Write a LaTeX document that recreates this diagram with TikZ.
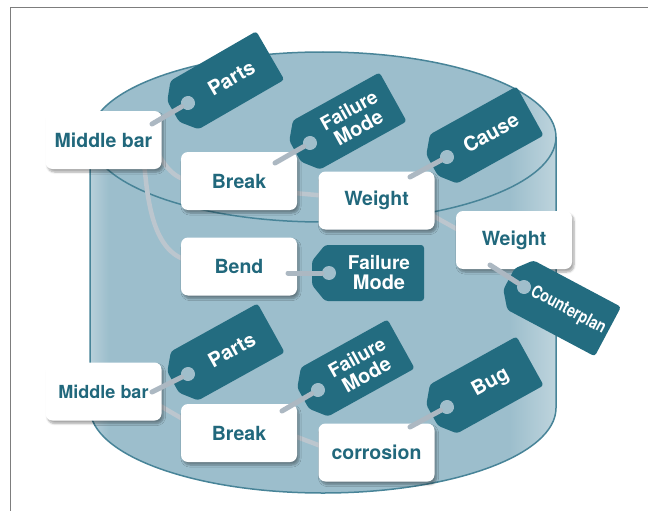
\documentclass[tikz,border=0pt]{standalone}
\usepackage{fontspec}
\setmainfont{TeX Gyre Heros}
\usetikzlibrary{calc,shadows.blur}

\definecolor{tagteal}{RGB}{35,108,128}
\definecolor{textteal}{RGB}{33,104,124}
\definecolor{cylmid}{RGB}{156,190,204}
\definecolor{cylleft}{RGB}{184,208,218}
\definecolor{cyllight}{RGB}{190,212,221}
\definecolor{cylrim}{RGB}{72,132,152}
\definecolor{linkgray}{RGB}{188,198,206}
\definecolor{stringgray}{RGB}{172,184,194}
\definecolor{holecol}{RGB}{160,190,203}
\definecolor{framegray}{RGB}{125,125,125}

% light bands along both sides of the drum
\pgfdeclarehorizontalshading{cylshade}{100bp}{color(0bp)=(cylleft); color(25bp)=(cylleft); color(27bp)=(cylmid); color(70bp)=(cylmid); color(75bp)=(cyllight); color(100bp)=(cyllight)}

\tikzset{
  box/.style={fill=white, rounded corners=7pt, minimum width=116pt, minimum height=58pt,
    inner sep=0pt, text=textteal, font=\fontsize{19.5}{20}\selectfont\bfseries,
    blur shadow={shadow xshift=2pt, shadow yshift=-3pt, shadow blur steps=6, shadow opacity=35}},
  link/.style={draw=linkgray, line width=4.5pt},
  string/.style={draw=stringgray, line width=5pt, line cap=round},
  tagtext/.style={text=white, align=center, inner sep=0pt, font=\fontsize{20}{20}\selectfont\bfseries},
  pics/luggage/.style n args={2}{code={
    \begin{scope}[rotate=#1, transform shape]
      \fill[tagteal, rounded corners=3pt] (-17,-12) -- (-4,-28) -- (95,-28) -- (95,28) -- (-4,28) -- (-17,12) -- cycle;
      \node[circle, fill=holecol, minimum size=14pt, inner sep=0pt] (-hole) at (0,0) {};
      \node[tagtext] (-label) at (50,0) {#2};
    \end{scope}
  }}
}

\begin{document}
\begin{tikzpicture}[x=1pt, y=-1pt]
\useasboundingbox (0,0) rectangle (648,511);

% page frame
\draw[framegray, line width=1pt] (10,520) -- (10,8) -- (660,8);

% storage drum
\shade[shading=cylshade] (90,137) rectangle (556,408);
\shade[shading=cylshade] (323,408) ellipse [x radius=233pt, y radius=85pt];
\shade[shading=cylshade] (323,137) ellipse [x radius=233pt, y radius=85pt];
\draw[cylrim, line width=1.5pt] (90,137) -- (90,408) arc [start angle=180, end angle=360, x radius=233pt, y radius=85pt] -- (556,137);
\draw[cylrim, line width=1.5pt] (323,137) ellipse [x radius=233pt, y radius=85pt];

% links between records (behind the cards)
\coordinate (l1a) at (150,140);  \coordinate (l1b) at (195,181);
\coordinate (l2a) at (143,150);  \coordinate (l2b) at (200,262);
\coordinate (l3a) at (260,190);  \coordinate (l3b) at (350,198);
\coordinate (l4a) at (410,203);  \coordinate (l4b) at (480,242);
\coordinate (l5a) at (145,397);  \coordinate (l5b) at (205,432);
\coordinate (l6a) at (260,423);  \coordinate (l6b) at (350,457);
\draw[link] (l1a) to[out=-60, in=180] (l1b);
\draw[link] (l2a) to[out=-85, in=180] (l2b);
\draw[link] (l3a) -- (l3b);
\draw[link] (l4a) -- (l4b);
\draw[link] (l5a) -- (l5b);
\draw[link] (l6a) -- (l6b);

% record cards
\node[box] (mb1) at (103.5,140) {Middle bar};
\node[box] (br1) at (239,181) {Break};
\node[box] (wt1) at (376.5,200.5) {Weight};
\node[box] (bd) at (239,266.5) {Bend};
\node[box] (wt2) at (514,240) {Weight};
\node[box, font=\fontsize{18}{18}\selectfont\bfseries] (mb2) at (103.5,391.5) {Middle bar};
\node[box] (br2) at (239,433) {Break};
\node[box] (co) at (376.5,452.5) {corrosion};

% type tags
\pic (tparts) at (188,103) {luggage={30}{Parts}};
\pic (tfm) at (310,143) {luggage={29}{\fontsize{19}{20.5}\selectfont Failure\\Mode}};
\pic (tcause) at (447,157) {luggage={29}{Cause}};
\pic (tfmb) at (329,273) {luggage={0}{\fontsize{19}{20.5}\selectfont Failure\\Mode}};
\pic (tcp) at (524,287) {luggage={-28}{\scalebox{0.8}[1]{\fontsize{17.5}{17.5}\selectfont Counterplan}}};
\pic (tparts2) at (188,374) {luggage={29}{Parts}};
\pic (tfm2) at (318,390) {luggage={29}{\fontsize{19}{20.5}\selectfont Failure\\Mode}};
\pic (tbug) at (447,407) {luggage={29}{Bug}};

% tag strings
\coordinate (s1) at (152,124);
\coordinate (s2) at (275,163);
\coordinate (s3) at (410,177);
\coordinate (s4) at (288,273);
\coordinate (s5) at (490,265);
\coordinate (s6) at (152,392);
\coordinate (s7) at (282,411);
\coordinate (s8) at (410,427);
\draw[string] (s1) -- (tparts-hole);
\draw[string] (s2) -- (tfm-hole);
\draw[string] (s3) -- (tcause-hole);
\draw[string] (s4) -- (tfmb-hole);
\draw[string] (s5) -- (tcp-hole);
\draw[string] (s6) -- (tparts2-hole);
\draw[string] (s7) -- (tfm2-hole);
\draw[string] (s8) -- (tbug-hole);
\end{tikzpicture}
\end{document}
